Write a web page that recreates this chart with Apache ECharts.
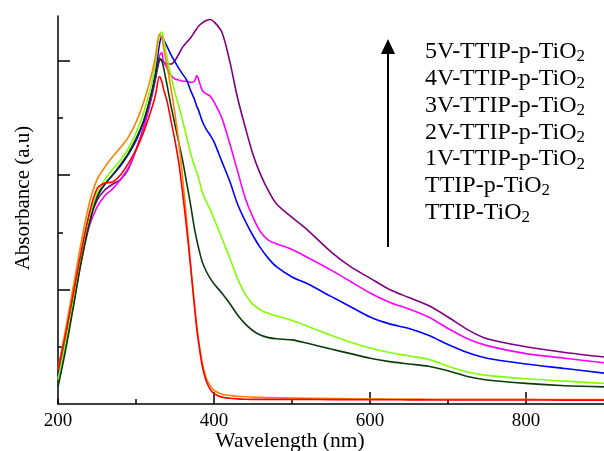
<!DOCTYPE html>
<html>
<head>
<meta charset="utf-8">
<script src="https://cdn.jsdelivr.net/npm/echarts@6/dist/echarts.min.js"></script>
<style>
html,body{margin:0;padding:0;background:#fff;}
#chart{width:604px;height:451px;}
</style>
</head>
<body>
<div id="chart"></div>
<script>
// Wavelength grid (nm)
var wavelengths = [200,210,220,230,240,250,260,270,280,290,
  300,310,320,325,330,333,335,340,345,350,
  355,360,365,370,375,378,380,385,390,395,
  400,410,420,430,440,450,460,470,480,500,
  520,550,575,600,625,650,675,700,725,750,
  800,850,900];

var names = ['5V-TTIP-p-TiO2','4V-TTIP-p-TiO2','3V-TTIP-p-TiO2','2V-TTIP-p-TiO2','1V-TTIP-p-TiO2','TTIP-p-TiO2','TTIP-TiO2'];

var v5 = [.25,.55,.9,1.28,1.6,1.78,1.87,1.92,1.96,2.05,
  2.22,2.42,2.68,2.84,3.0,3.01,2.99,2.97,2.97,3.0,
  3.06,3.12,3.16,3.2,3.25,3.28,3.3,3.33,3.35,3.36,
  3.34,3.25,3.0,2.68,2.42,2.18,2.0,1.86,1.75,1.63,
  1.52,1.33,1.2,1.1,1.0,0.93,0.86,0.76,0.65,0.57,
  0.5,0.45,0.41];
var v4 = [.23,.52,.88,1.25,1.55,1.72,1.82,1.88,1.96,2.06,
  2.22,2.42,2.7,2.86,3.04,3.07,3.0,2.93,2.87,2.84,
  2.83,2.82,2.82,2.81,2.82,2.87,2.84,2.74,2.71,2.69,
  2.64,2.5,2.28,2.04,1.8,1.63,1.5,1.43,1.4,1.35,
  1.28,1.17,1.07,0.97,0.89,0.83,0.76,0.66,0.57,0.51,
  0.44,0.4,0.36];
var v3 = [.24,.55,.92,1.3,1.62,1.82,1.92,2.0,2.08,2.18,
  2.3,2.47,2.72,2.9,3.14,3.21,3.19,3.12,3.05,2.99,
  2.93,2.88,2.83,2.74,2.66,2.6,2.57,2.47,2.4,2.35,
  2.29,2.12,1.95,1.75,1.6,1.47,1.36,1.27,1.2,1.11,
  1.05,0.94,0.85,0.76,0.7,0.66,0.6,0.52,0.45,0.4,
  0.35,0.31,0.27];
var v2 = [.21,.55,.92,1.3,1.62,1.84,1.96,2.05,2.13,2.23,
  2.37,2.55,2.8,2.98,3.22,3.25,3.2,3.02,2.86,2.72,
  2.6,2.47,2.33,2.19,2.08,2.02,1.98,1.85,1.77,1.7,
  1.62,1.45,1.28,1.1,0.96,0.87,0.82,0.79,0.77,0.73,
  0.68,0.6,0.54,0.49,0.45,0.42,0.39,0.33,0.28,0.25,
  0.22,0.2,0.18];
var v1 = [.15,.48,.86,1.25,1.57,1.8,1.92,2.0,2.09,2.19,
  2.32,2.48,2.72,2.86,3.02,3.0,2.95,2.78,2.6,2.44,
  2.28,2.12,1.93,1.74,1.53,1.43,1.37,1.24,1.16,1.1,
  1.05,0.97,0.88,0.78,0.7,0.64,0.6,0.58,0.57,0.56,
  0.53,0.48,0.44,0.4,0.37,0.35,0.33,0.29,0.24,0.21,
  0.18,0.16,0.15];
var vP = [.30,.66,1.04,1.42,1.75,1.96,2.07,2.16,2.24,2.33,
  2.46,2.64,2.88,3.04,3.23,3.2,3.13,2.95,2.75,2.53,
  2.28,1.96,1.6,1.22,0.87,0.68,0.57,0.36,0.23,0.16,
  0.12,0.085,0.075,0.068,0.064,0.06,0.058,0.056,0.055,0.052,
  0.05,0.048,0.046,0.045,0.044,0.043,0.042,0.041,0.04,0.04,
  0.04,0.039,0.038];
var v0 = [.30,.62,.98,1.34,1.66,1.88,1.93,1.94,2.0,2.1,
  2.22,2.38,2.58,2.7,2.86,2.82,2.76,2.64,2.47,2.3,
  2.1,1.83,1.53,1.2,0.85,0.65,0.55,0.33,0.2,0.13,
  0.09,0.06,0.05,0.045,0.042,0.04,0.04,0.04,0.04,0.04,
  0.04,0.038,0.038,0.037,0.037,0.036,0.036,0.035,0.035,0.035,
  0.035,0.034,0.034];

var seriesValues = [v5, v4, v3, v2, v1, vP, v0];
var colors = ['#7f007f','#ff00ff','#0000ff','#80ff00','#0b3b0b','#ff8000','#ff0000'];

var xTicksMajor = [400,600,800];
var yTicksMinor = [0.5,1,1.5,2,2.5,3];
var yTicksMajor = [1,2,3];

var FONT = '"Liberation Serif","Times New Roman",serif';

var chart = echarts.init(document.getElementById('chart'), null, {renderer:'canvas'});

var series = seriesValues.map(function(vals, i){
  return {
    name: names[i],
    type: 'line',
    data: wavelengths.map(function(w, j){ return [w, vals[j]]; }),
    showSymbol: false,
    smooth: 0.3,
    lineStyle: {color: colors[i], width: 1.6},
    itemStyle: {color: colors[i]},
    xAxisIndex: 0, yAxisIndex: 0,
    z: 2 + i
  };
});

var graphics = [
  {type:'text', x: 23, y: 198, rotation: Math.PI/2,
    style:{text:'Absorbance (a.u)', fontSize:21, fontFamily:FONT, fill:'#000', align:'center', verticalAlign:'middle'}},
  {type:'text', x: 290, y: 441,
    style:{text:'Wavelength (nm)', fontSize:21.5, fontFamily:FONT, fill:'#000', align:'center', verticalAlign:'middle'}},
  {type:'line', shape:{x1:388, y1:247, x2:388, y2:52}, style:{stroke:'#000', lineWidth:2}},
  {type:'polygon', shape:{points:[[381,54],[395,54],[388,39]]}, style:{fill:'#000'}}
];
names.forEach(function(n, i){
  var txt = n.replace(/2$/, '{s|2}');
  graphics.push({type:'text', x: 425, y: 52 + 26.8*i,
    style:{text: txt, fontSize:24, fontFamily:FONT, fill:'#000', align:'left', verticalAlign:'middle', lineHeight:27,
      rich:{s:{fontSize:17, fontFamily:FONT, fill:'#000', lineHeight:15, verticalAlign:'bottom'}}}});
});

chart.setOption({
  animation: false,
  backgroundColor: '#fff',
  grid: {left:58, right:0, top:16, bottom:47, containLabel:false},
  xAxis: [
    {type:'value', min:200, max:900, interval:100,
      axisLine:{show:true, onZero:false, lineStyle:{color:'#000', width:1.5}},
      axisTick:{show:true, inside:true, length:5, lineStyle:{color:'#000', width:1.5}},
      axisLabel:{show:true, margin:8, fontSize:19, fontFamily:FONT, color:'#000', showMaxLabel:false,
        formatter:function(v){ return (v % 200 === 0 && v < 900) ? String(v) : ''; }},
      splitLine:{show:false}},
    {type:'value', min:200, max:900, interval:200, position:'bottom',
      axisLine:{show:false},
      axisTick:{show:true, inside:true, length:12, customValues: xTicksMajor, lineStyle:{color:'#000', width:1.5}},
      axisLabel:{show:false}, splitLine:{show:false}}
  ],
  yAxis: [
    {type:'value', min:0, max:3.39, interval:0.5, position:'left',
      axisLine:{show:true, onZero:false, lineStyle:{color:'#000', width:1.5}},
      axisTick:{show:true, inside:true, length:5, customValues: yTicksMinor, lineStyle:{color:'#000', width:1.5}},
      axisLabel:{show:false}, splitLine:{show:false}},
    {type:'value', min:0, max:3.39, interval:1, position:'left', offset:0,
      axisLine:{show:false},
      axisTick:{show:true, inside:true, length:12, customValues: yTicksMajor, lineStyle:{color:'#000', width:1.5}},
      axisLabel:{show:false}, splitLine:{show:false}}
  ],
  series: series,
  graphic: graphics
});
</script>
</body>
</html>
